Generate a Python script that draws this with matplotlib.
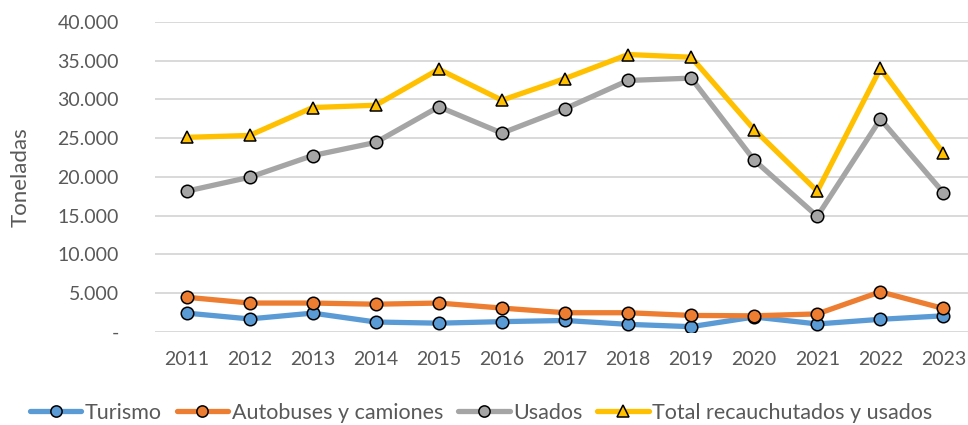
import matplotlib
matplotlib.use("Agg")
import matplotlib.pyplot as plt
from matplotlib.ticker import FuncFormatter

years = ["2011", "2012", "2013", "2014", "2015", "2016", "2017", "2018", "2019", "2020", "2021", "2022", "2023"]
turismo = [2400, 1650, 2400, 1250, 1100, 1300, 1450, 950, 650, 1900, 1000, 1600, 2050]
autobuses = [4450, 3700, 3700, 3550, 3700, 3050, 2450, 2450, 2100, 2050, 2300, 5150, 3000]
usados = [18150, 19950, 22750, 24450, 29050, 25650, 28800, 32450, 32750, 22150, 14900, 27450, 17950]
total = [25100, 25350, 28950, 29250, 33900, 29900, 32700, 35800, 35450, 26100, 18150, 34000, 23050]
yticks = [0, 5000, 10000, 15000, 20000, 25000, 30000, 35000, 40000]

plt.rcParams['font.family'] = ['Lato', 'DejaVu Sans']
fig = plt.figure(figsize=(9.68, 4.25), dpi=100)
ax = fig.add_axes([155/968, (425-331.7)/425, 820/968, 309.7/425])

x = list(range(len(years)))
series = [
    ("Turismo", turismo, "#5B9BD5", "o"),
    ("Autobuses y camiones", autobuses, "#ED7D31", "o"),
    ("Usados", usados, "#A5A5A5", "o"),
    ("Total recauchutados y usados", total, "#FFC000", "^"),
]
for name, vals, col, mk in series:
    ax.plot(x, vals, color=col, lw=3.8, marker=mk, ms=9,
            markerfacecolor=col, markeredgecolor="black", markeredgewidth=1.1,
            label=name, solid_capstyle="round", zorder=3)

ax.set_xlim(-0.5, len(years) - 0.5)
ax.set_ylim(0, 40000)
ax.set_yticks(yticks)
ax.yaxis.set_major_formatter(FuncFormatter(lambda v, p: "-" if v == 0 else f"{int(v):,}".replace(",", ".")))
ax.set_xticks(x)
ax.set_xticklabels(years)
ax.grid(axis="y", color="#D9D9D9", lw=1.4, zorder=0)
for s in ax.spines.values():
    s.set_visible(False)
ax.tick_params(axis="both", length=0, labelsize=14, colors="#595959")
ax.tick_params(axis="y", pad=26)
ax.tick_params(axis="x", pad=14)
ax.set_ylabel("Toneladas", fontsize=16, color="#595959")
ax.yaxis.set_label_coords(-0.152, 0.5)

fig.legend(loc="center", bbox_to_anchor=(0.497, 12/425), ncol=4, frameon=False,
           fontsize=15.5, labelcolor="#595959", handlelength=2.4, handletextpad=0.15,
           columnspacing=0.7, markerscale=0.9)

fig.savefig("out.png", dpi=100)
